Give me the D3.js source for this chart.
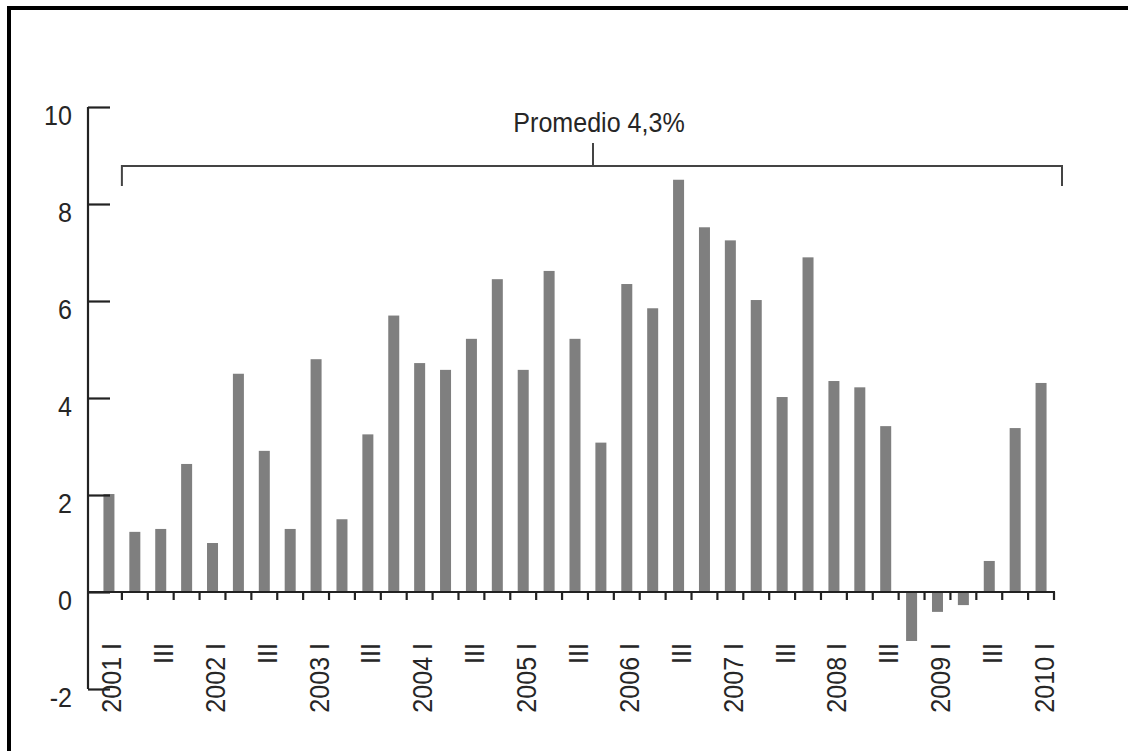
<!DOCTYPE html>
<html>
<head>
<meta charset="utf-8">
<script src="https://cdn.jsdelivr.net/npm/d3@7"></script>
<style>
    body { margin: 0; background: #fff; }
    svg text { font-family: "Liberation Sans Narrow", "Arial Narrow", "Liberation Sans", sans-serif; fill: #262626; }
</style>
</head>
<body>
<div id="chart"></div>
<script>
// Quarterly values, 2001 I .. 2010 I
const years = [2001, 2002, 2003, 2004, 2005, 2006, 2007, 2008, 2009, 2010];
const quarters = ['I', 'II', 'III', 'IV'];
const values = [
    2.02, 1.24, 1.30, 2.64,
    1.01, 4.50, 2.91, 1.30,
    4.80, 1.50, 3.25, 5.70,
    4.72, 4.58, 5.22, 6.45,
    4.58, 6.62, 5.22, 3.08,
    6.35, 5.85, 8.50, 7.52,
    7.25, 6.02, 4.02, 6.90,
    4.35, 4.22, 3.42, -1.01,
    -0.41, -0.27, 0.64, 3.38,
    4.31
];
const yTicks = [-2, 0, 2, 4, 6, 8, 10];
const averageLabel = 'Promedio 4,3%';

const categories = values.map((v, i) => {
    const y = years[Math.floor(i / 4)];
    const q = quarters[i % 4];
    return { key: y + '-' + q, year: y, q: q, value: v };
});

const width = 1138;
const height = 751;
const fontSize = '28.5px';
const narrow = 0.88; // no narrow font installed, squeeze the regular one

const svg = d3.select('#chart').append('svg')
    .attr('width', width)
    .attr('height', height);

// frame (top and left only, like the scan)
svg.append('line').attr('x1', 9).attr('y1', 8).attr('x2', 1128).attr('y2', 8)
    .attr('stroke', '#000').attr('stroke-width', 4);
svg.append('line').attr('x1', 9).attr('y1', 6).attr('x2', 9).attr('y2', height)
    .attr('stroke', '#000').attr('stroke-width', 4);

const x = d3.scaleBand()
    .domain(categories.map(d => d.key))
    .range([96, 1054])
    .paddingInner(0)
    .paddingOuter(0);

const y = d3.scaleLinear()
    .domain([-2, 10])
    .range([689, 107]);

const axisX = 88;
const barWidth = 11;
const axisColor = '#222';

// bars
svg.append('g').selectAll('rect')
    .data(categories)
    .join('rect')
    .attr('x', d => x(d.key) + x.bandwidth() / 2 - barWidth / 2)
    .attr('y', d => y(Math.max(0, d.value)))
    .attr('width', barWidth)
    .attr('height', d => Math.abs(y(d.value) - y(0)))
    .attr('fill', '#7f7f7f');

// y axis
const yAxis = d3.axisRight(y)
    .tickValues(yTicks)
    .tickSize(22)
    .tickFormat('');
const gy = svg.append('g')
    .attr('transform', `translate(${axisX},0)`)
    .call(yAxis);
gy.select('.domain').attr('stroke', axisColor).attr('stroke-width', 2.2)
    .attr('d', `M0,${y(10)}V${y(-2)}`);
gy.selectAll('.tick line').attr('stroke', axisColor).attr('stroke-width', 2.2);

svg.append('g').selectAll('text')
    .data(yTicks)
    .join('text')
    .attr('transform', d => `translate(72,${y(d) + 17.5}) scale(${narrow},1)`)
    .attr('text-anchor', 'end')
    .attr('font-size', fontSize)
    .text(d => d);

// x axis at zero
const x0 = y(0);
svg.append('line')
    .attr('x1', axisX).attr('x2', x.range()[1] + 1)
    .attr('y1', x0).attr('y2', x0)
    .attr('stroke', axisColor).attr('stroke-width', 2.2);

svg.append('g').selectAll('line')
    .data(categories)
    .join('line')
    .attr('x1', d => x(d.key) + x.bandwidth())
    .attr('x2', d => x(d.key) + x.bandwidth())
    .attr('y1', x0)
    .attr('y2', x0 + 8)
    .attr('stroke', axisColor)
    .attr('stroke-width', 2.2);

// quarter labels (I and III only)
const labelTop = 643;
svg.append('g').selectAll('text')
    .data(categories.filter(d => d.q === 'I' || d.q === 'III'))
    .join('text')
    .attr('transform', d => `translate(${x(d.key) + x.bandwidth() / 2 + 12.5},${labelTop}) rotate(-90) scale(${narrow},1)`)
    .attr('text-anchor', 'end')
    .attr('font-size', fontSize)
    .text(d => d.q === 'I' ? d.year + ' I' : 'III');

// average bracket
const bx1 = x(categories[0].key) + x.bandwidth();
const bx2 = 1062;
const by = 166;
const bmid = 593;
svg.append('path')
    .attr('d', `M${bx1},186V${by}H${bx2}V186`)
    .attr('fill', 'none')
    .attr('stroke', '#444')
    .attr('stroke-width', 2);
svg.append('line')
    .attr('x1', bmid).attr('x2', bmid)
    .attr('y1', 143).attr('y2', by)
    .attr('stroke', '#444')
    .attr('stroke-width', 2);
svg.append('text')
    .attr('transform', `translate(599,132) scale(${narrow},1)`)
    .attr('text-anchor', 'middle')
    .attr('font-size', fontSize)
    .text(averageLabel);
</script>
</body>
</html>
